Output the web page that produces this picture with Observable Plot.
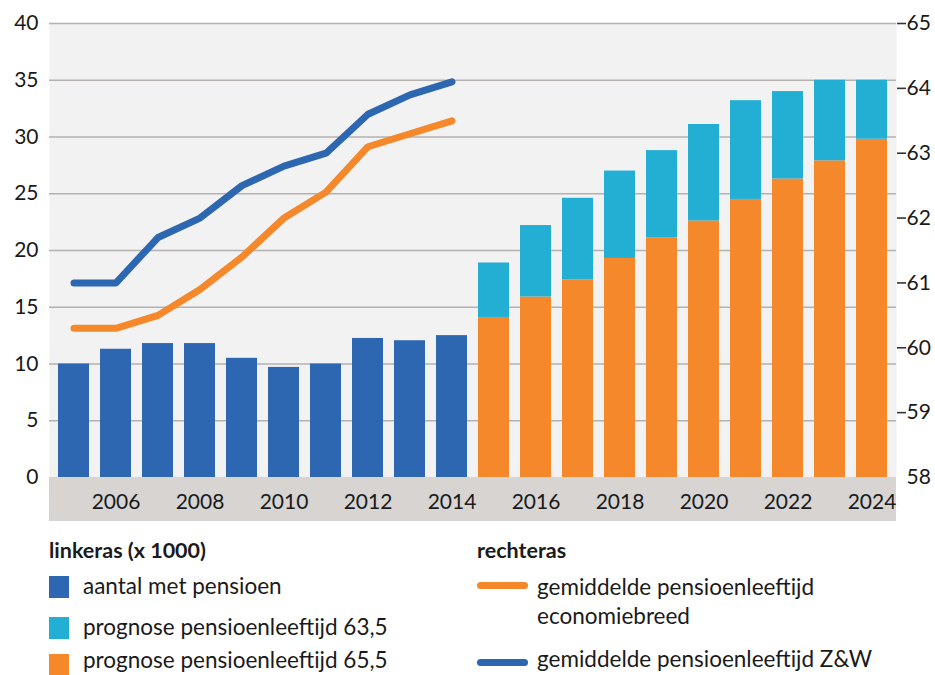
<!DOCTYPE html>
<html><head><meta charset="utf-8">
<script src="https://cdn.jsdelivr.net/npm/d3@7"></script>
<script src="https://cdn.jsdelivr.net/npm/@observablehq/plot@0.6"></script>
<style>
body{margin:0;background:#fff;font-family:Lato,"Open Sans",sans-serif;color:#1a1a1a;}
#wrap{position:relative;width:935px;height:675px;overflow:hidden;}
#chart{position:absolute;left:0;top:0;}
.lg{position:absolute;font-size:22.5px;line-height:24px;white-space:nowrap;}
.hd{font-weight:bold;font-size:21.5px;}
.sw{position:absolute;width:20px;height:22px;}
.ln{position:absolute;width:51px;height:7px;border-radius:4px;}
</style></head><body>
<div id="wrap">
  <div id="chart"></div>
  <div class="lg hd" style="left:49px;top:538px;">linkeras (x 1000)</div>
  <div class="sw" style="left:49px;top:576px;background:#2d67b2"></div>
  <div class="lg" style="left:83px;top:574px;">aantal met pensioen</div>
  <div class="sw" style="left:49px;top:617px;background:#23aed4"></div>
  <div class="lg" style="left:83px;top:615px;">prognose pensioenleeftijd 63,5</div>
  <div class="sw" style="left:49px;top:654px;background:#f5882b"></div>
  <div class="lg" style="left:83px;top:648px;">prognose pensioenleeftijd 65,5</div>
  <div class="lg hd" style="left:477px;top:538px;">rechteras</div>
  <div class="ln" style="left:477px;top:582px;background:#f5882b"></div>
  <div class="lg" style="left:537px;top:572px;line-height:29px;">gemiddelde pensioenleeftijd<br>economiebreed</div>
  <div class="ln" style="left:477px;top:659px;background:#2d67b2"></div>
  <div class="lg" style="left:537px;top:647px;">gemiddelde pensioenleeftijd Z&amp;W</div>
</div>
<script>
// ---- data ----
const years = [2005,2006,2007,2008,2009,2010,2011,2012,2013,2014,2015,2016,2017,2018,2019,2020,2021,2022,2023,2024];
const histYears = [2005,2006,2007,2008,2009,2010,2011,2012,2013,2014];
const aantalMetPensioen = [10.0,11.3,11.8,11.8,10.5,9.7,10.0,12.25,12.05,12.5];
const prognoseYears = [2015,2016,2017,2018,2019,2020,2021,2022,2023,2024];
const prognose655 = [14.1,15.9,17.4,19.3,21.1,22.6,24.5,26.3,27.9,29.8];
const prognose635 = [18.9,22.2,24.6,27.0,28.8,31.1,33.2,34.0,35.0,35.0];
const leeftijdEconomiebreed = [60.3,60.3,60.5,60.9,61.4,62.0,62.4,63.1,63.3,63.5];
const leeftijdZW = [61.0,61.0,61.7,62.0,62.5,62.8,63.0,63.6,63.9,64.1];
const leftTicks = [0,5,10,15,20,25,30,35,40];
const rightTicks = [58,59,60,61,62,63,64,65];
const xTickLabels = [2006,2008,2010,2012,2014,2016,2018,2020,2022,2024];

// right axis (58–65) mapped onto the left axis (0–40)
const rMin = 58, rMax = 65, lMax = 40;
const toLeft = v => (v - rMin) * lMax / (rMax - rMin);
const fromLeft = v => String(Math.round(v * (rMax - rMin) / lMax + rMin));

const hist = histYears.map((year, i) => ({year, value: aantalMetPensioen[i]}));
const prog = prognoseYears.map((year, i) => ({year, p655: prognose655[i], p635: prognose635[i]}));
const lines = histYears.map((year, i) => ({year, eco: leeftijdEconomiebreed[i], zw: leeftijdZW[i]}));

const axisBand = (index, scales, values, dimensions) => {
  const {width, height, marginLeft, marginRight, marginBottom} = dimensions;
  return d3.create("svg:rect")
    .attr("x", marginLeft).attr("y", height - marginBottom)
    .attr("width", width - marginLeft - marginRight).attr("height", 44)
    .attr("fill", "#d8d4d1").node();
};

const chart = Plot.plot({
  width: 935, height: 525,
  marginLeft: 49, marginRight: 39, marginTop: 23, marginBottom: 48,
  style: {fontFamily: "Lato, 'Open Sans', sans-serif", fontSize: "21px", color: "#1a1a1a", background: "transparent", overflow: "visible"},
  x: {type: "band", domain: years, paddingInner: 0.27, paddingOuter: 0.15, axis: null},
  y: {domain: [0, 40], axis: null},
  marks: [
    Plot.frame({fill: "#f2f2f2", stroke: null}),
    axisBand,
    Plot.ruleY(leftTicks.filter(d => d > 0), {stroke: "#b5b1ae", strokeWidth: 1.3}),
    Plot.barY(hist, {x: "year", y: "value", fill: "#2d67b2"}),
    Plot.barY(prog, {x: "year", y1: 0, y2: "p655", fill: "#f5882b"}),
    Plot.barY(prog, {x: "year", y1: "p655", y2: "p635", fill: "#23aed4"}),
    Plot.line(lines, {x: "year", y: d => toLeft(d.eco), stroke: "#f5882b", strokeWidth: 7, strokeLinecap: "round", strokeLinejoin: "round"}),
    Plot.line(lines, {x: "year", y: d => toLeft(d.zw), stroke: "#2d67b2", strokeWidth: 7, strokeLinecap: "round", strokeLinejoin: "round"}),
    Plot.axisY(leftTicks, {anchor: "left", tickSize: 0, tickPadding: 11, label: null}),
    Plot.axisY(rightTicks.filter(d => d > rMin).map(toLeft), {anchor: "right", tickSize: 9, tickPadding: 1, tickFormat: fromLeft, label: null, stroke: "#333", strokeWidth: 1.6}),
    Plot.axisY([toLeft(rMin)], {anchor: "right", tickSize: 0, tickPadding: 10, tickFormat: fromLeft, label: null}),
    Plot.axisX(xTickLabels, {anchor: "bottom", tickSize: 0, tickPadding: 17, tickFormat: d => String(d), label: null})
  ]
});
document.getElementById("chart").append(chart);
</script>
</body></html>
